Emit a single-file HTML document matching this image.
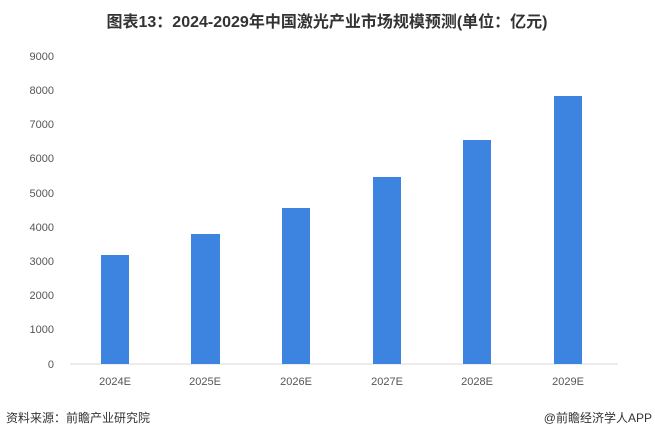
<!DOCTYPE html>
<html><head><meta charset="utf-8"><style>
body{margin:0;width:655px;height:440px;background:#fff;overflow:hidden;font-family:"Liberation Sans","Noto Sans CJK SC",sans-serif;}
</style></head><body>
<svg width="655" height="440" xmlns="http://www.w3.org/2000/svg" style="font-family:'Liberation Sans','Noto Sans CJK SC',sans-serif">
<text x="327" y="27" text-anchor="middle" font-size="16" font-weight="bold" fill="#333">图表13：2024-2029年中国激光产业市场规模预测(单位：亿元)</text>
<g font-size="11" fill="#555" text-anchor="end">
<text x="54" y="60">9000</text><text x="54" y="94">8000</text><text x="54" y="128">7000</text>
<text x="54" y="162">6000</text><text x="54" y="197">5000</text><text x="54" y="231">4000</text>
<text x="54" y="265">3000</text><text x="54" y="299">2000</text><text x="54" y="333">1000</text>
<text x="54" y="368">0</text>
</g>
<line x1="70" y1="364" x2="618" y2="364" stroke="#d9d9d9" stroke-width="1"/>
<g fill="#3c84e0">
<rect x="101" y="255" width="28" height="109"/>
<rect x="191" y="234" width="29" height="130"/>
<rect x="282" y="208" width="28" height="156"/>
<rect x="373" y="177" width="28" height="187"/>
<rect x="463" y="140" width="28" height="224"/>
<rect x="554" y="96" width="28" height="268"/>
</g>
<g font-size="11" fill="#555" text-anchor="middle">
<text x="115" y="385">2024E</text><text x="205" y="385">2025E</text><text x="296" y="385">2026E</text>
<text x="387" y="385">2027E</text><text x="477" y="385">2028E</text><text x="568" y="385">2029E</text>
</g>
<text x="6" y="422" font-size="12" fill="#333">资料来源：前瞻产业研究院</text>
<text x="652" y="422" font-size="12" fill="#333" text-anchor="end">@前瞻经济学人APP</text>
</svg>
</body></html>
